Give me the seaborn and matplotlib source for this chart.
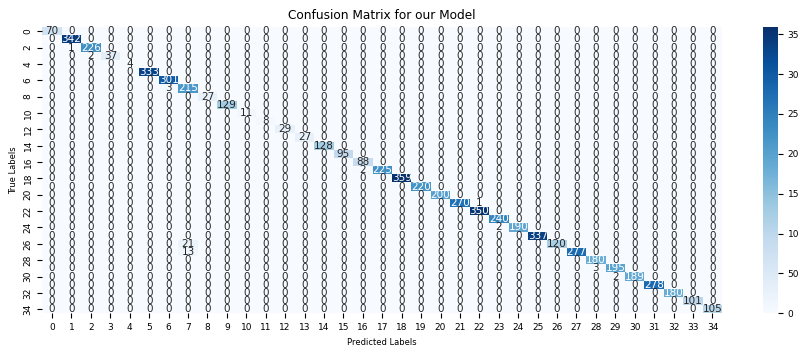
import numpy as np
import matplotlib
matplotlib.use("Agg")
import matplotlib.pyplot as plt
import seaborn as sns

# class ids 0..34
labels = list(range(35))

# correct predictions (diagonal)
diag_counts = [70, 342, 226, 37, 4, 333, 301, 215, 27, 129,
               11, 8, 29, 27, 128, 95, 88, 225, 359, 220,
               200, 270, 350, 240, 190, 337, 120, 277, 180, 195,
               189, 278, 180, 101, 105]

# the few visible mistakes
off_rows = [26, 27, 3, 7, 17, 21, 24, 29, 30, 2]
off_cols = [7, 7, 2, 6, 16, 22, 23, 28, 29, 1]
off_vals = [21, 13, 2, 3, 2, 1, 2, 3, 2, 1]

cm = np.zeros((35, 35), dtype=int)
cm[labels, labels] = diag_counts
cm[off_rows, off_cols] = off_vals

fig = plt.figure(figsize=(7.98, 3.47), dpi=100)
ax = fig.add_axes([0.053, 0.097, 0.852, 0.825])
cax = fig.add_axes([0.956, 0.097, 0.019, 0.825])

sns.heatmap(cm, annot=True, fmt='d', cmap='Blues', ax=ax, cbar_ax=cax,
            annot_kws={'fontsize': 7.5})

ax.set_title('Confusion Matrix for our Model', fontsize=8.7)
ax.set_xlabel('Predicted Labels', fontsize=6)
ax.set_ylabel('True Labels', fontsize=6)
ax.tick_params(labelsize=6.5)
plt.setp(ax.get_yticklabels(), rotation=90, va='center')
cax.tick_params(labelsize=6.5)

fig.savefig('out.png', dpi=100)
